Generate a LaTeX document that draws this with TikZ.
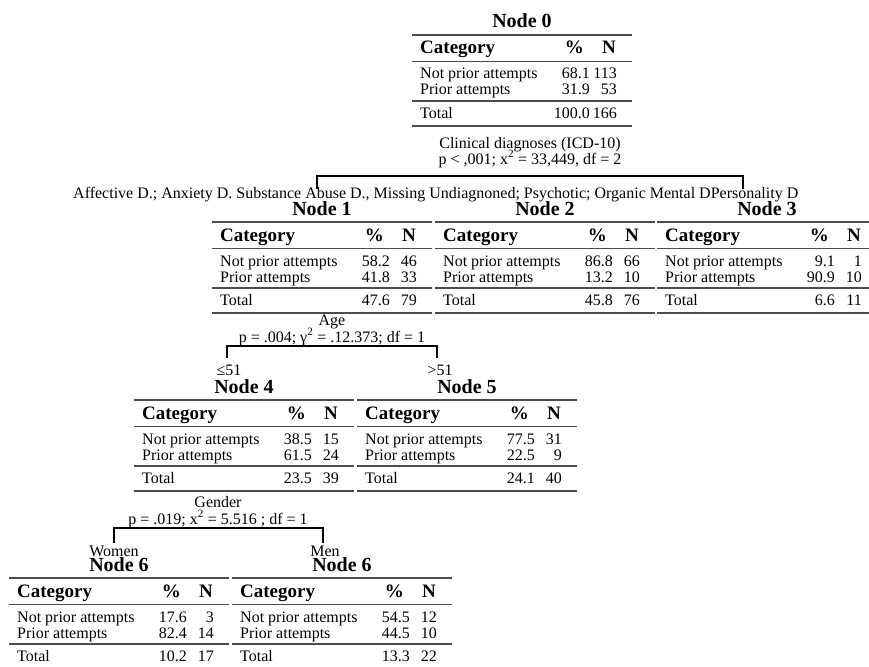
\documentclass[tikz,border=0pt]{standalone}
\usepackage{fontspec}
\setmainfont{Liberation Serif}
\tikzset{
  ttl/.style={font=\fontsize{20}{20}\selectfont\bfseries, inner sep=0pt, anchor=base},
  hdr/.style={font=\fontsize{19}{19}\selectfont\bfseries, inner sep=0pt},
  txt/.style={font=\fontsize{16}{16}\selectfont, inner sep=0pt},
  rul/.style={line width=1.8pt, draw=black!70},
  brk/.style={line width=1.1pt, draw=black},
}
% #1 name, #2 title, #3-#8 data
\newcommand{\ctab}[8]{%
  \node[ttl] (#1) at (110,-7) {#2};
  \draw[rul] (0,0) -- (220,0);
  \draw[rul] (0,26.5) -- (220,26.5);
  \draw[rul] (0,66) -- (220,66);
  \draw[rul] (0,91) -- (220,91);
  \node[hdr,anchor=base west] (#1-cat) at (8,19) {Category};
  \node[hdr,anchor=base east] (#1-pc) at (172,19) {\%};
  \node[hdr,anchor=base east] (#1-n) at (204,19) {N};
  \node[txt,anchor=base west] (#1-r1) at (8,44) {Not prior attempts};
  \node[txt,anchor=base east] (#1-r1p) at (178,44) {#3};
  \node[txt,anchor=base east] (#1-r1n) at (205,44) {#4};
  \node[txt,anchor=base west] (#1-r2) at (8,60) {Prior attempts};
  \node[txt,anchor=base east] (#1-r2p) at (178,60) {#5};
  \node[txt,anchor=base east] (#1-r2n) at (205,60) {#6};
  \node[txt,anchor=base west] (#1-tt) at (8,83) {Total};
  \node[txt,anchor=base east] (#1-ttp) at (178,83) {#7};
  \node[txt,anchor=base east] (#1-ttn) at (205,83) {#8};
}
\begin{document}
\begin{tikzpicture}[x=1pt,y=-1pt]
\useasboundingbox (0,0) rectangle (869,666);
\clip (0,0) rectangle (869,666);
\fill[white] (0,0) rectangle (869,666);

% tables
\begin{scope}[shift={(412,35)}]\ctab{n0}{Node 0}{68.1}{113}{31.9}{53}{100.0}{166}\end{scope}
\begin{scope}[shift={(212,222)}]\ctab{n1}{Node 1}{58.2}{46}{41.8}{33}{47.6}{79}\end{scope}
\begin{scope}[shift={(435,222)}]\ctab{n2}{Node 2}{86.8}{66}{13.2}{10}{45.8}{76}\end{scope}
\begin{scope}[shift={(657,222)}]\ctab{n3}{Node 3}{9.1}{1}{90.9}{10}{6.6}{11}\end{scope}
\begin{scope}[shift={(134,400)}]\ctab{n4}{Node 4}{38.5}{15}{61.5}{24}{23.5}{39}\end{scope}
\begin{scope}[shift={(357,400)}]\ctab{n5}{Node 5}{77.5}{31}{22.5}{9}{24.1}{40}\end{scope}
\begin{scope}[shift={(9,578)}]\ctab{n6a}{Node 6}{17.6}{3}{82.4}{14}{10.2}{17}\end{scope}
\begin{scope}[shift={(232,578)}]\ctab{n6b}{Node 6}{54.5}{12}{44.5}{10}{13.3}{22}\end{scope}

% split 0
\node[txt,anchor=base] (s0a) at (530,148) {Clinical diagnoses (ICD-10)};
\node[txt,anchor=base] (s0b) at (530,164) {p < ,001; x\textsuperscript{2} = 33,449, df = 2};
\coordinate (b0l) at (317,189);
\coordinate (b0r) at (743,189);
\draw[brk] (b0l) -- ++(0,-13) -| (b0r);
\node[txt,anchor=base west] (lab0) at (73,198) {Affective D.; Anxiety D. Substance Abuse D., Missing Undiagnoned; Psychotic; Organic Mental DPersonality D};

% split 1 (Age)
\node[txt,anchor=base] (s1a) at (332,325) {Age};
\node[txt,anchor=base] (s1b) at (332,342) {p = .004; γ\textsuperscript{2} = .12.373; df = 1};
\coordinate (b1l) at (227,358);
\coordinate (b1r) at (437,358);
\draw[brk] (b1l) -- ++(0,-12) -| (b1r);
\node[txt,anchor=base] (l1a) at (229,375) {≤51};
\node[txt,anchor=base] (l1b) at (440,375) {>51};

% split 4 (Gender)
\node[txt,anchor=base] (s4a) at (218,507) {Gender};
\node[txt,anchor=base] (s4b) at (218,524) {p = .019; x\textsuperscript{2} = 5.516 ; df = 1};
\coordinate (b4l) at (114,543);
\coordinate (b4r) at (323,543);
\draw[brk] (b4l) -- ++(0,-15) -| (b4r);
\node[txt,anchor=base] (l4a) at (114,556) {Women};
\node[txt,anchor=base] (l4b) at (325,556) {Men};
\end{tikzpicture}
\end{document}
